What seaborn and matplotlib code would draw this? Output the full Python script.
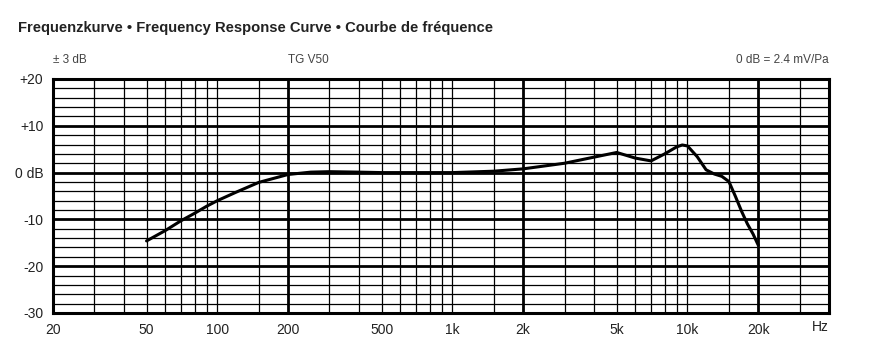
import matplotlib
matplotlib.use("Agg")
import matplotlib.pyplot as plt
import seaborn as sns
import numpy as np
import pandas as pd

freq_hz = [50, 60, 70, 80, 90, 100, 120, 150, 200, 250, 300, 400, 500, 700,
           1000, 1500, 2000, 3000, 4000, 5000, 6000, 7000, 8000, 9000, 9500,
           10000, 11000, 12000, 13000, 14000, 15000, 16000, 17000, 18000,
           19000, 20000]
level_db = [-14.6, -12.4, -10.3, -8.7, -7.2, -6.0, -4.2, -2.1, -0.4, 0.1, 0.2,
            0.1, 0.0, 0.0, 0.0, 0.3, 0.8, 2.0, 3.3, 4.3, 3.1, 2.5, 4.0, 5.5,
            5.9, 5.7, 3.4, 0.6, -0.3, -0.8, -1.9, -5.1, -8.3, -11.0, -13.1,
            -15.5]

x_ticks = [20, 50, 100, 200, 500, 1000, 2000, 5000, 10000, 20000]
x_labels = ["20", "50", "100", "200", "500", "1k", "2k", "5k", "10k", "20k"]
y_ticks = [20, 10, 0, -10, -20, -30]
y_labels = ["+20", "+10", "0 dB", "-10", "-20", "-30"]

thin_v = [30, 40, 50, 60, 70, 80, 90, 100, 150, 300, 400, 500, 600, 700, 800,
          900, 1000, 1500, 3000, 4000, 5000, 6000, 7000, 8000, 9000, 10000,
          15000, 30000]
heavy_v = [200, 2000, 20000]

df = pd.DataFrame({"freq": freq_hz, "db": level_db})

sns.set_theme(style="white")
plt.rcParams["font.family"] = ["Liberation Sans Narrow", "Liberation Sans", "DejaVu Sans"]

fig = plt.figure(figsize=(8.71, 3.60), dpi=100)
ax = fig.add_axes([53 / 871, 47 / 360, 776 / 871, 234 / 360])

ax.set_xscale("log")
ax.set_xlim(20, 40000)
ax.set_ylim(-30, 20)

for f in thin_v:
    ax.axvline(f, color="black", lw=0.9, zorder=1)
for f in heavy_v:
    ax.axvline(f, color="black", lw=2.0, zorder=1)
for d in range(-28, 20, 2):
    ax.axhline(d, color="black", lw=2.0 if d % 10 == 0 else 0.9, zorder=1)

sns.lineplot(data=df, x="freq", y="db", color="black", linewidth=2.2, ax=ax, zorder=3)

for s in ax.spines.values():
    s.set_visible(True)
    s.set_color("black")
    s.set_linewidth(2.2)

ax.set_xticks(x_ticks)
ax.set_xticklabels(x_labels)
ax.xaxis.set_minor_locator(matplotlib.ticker.NullLocator())
ax.set_yticks(y_ticks)
ax.set_yticklabels(y_labels)
ax.tick_params(axis="both", length=0, labelsize=10, colors="#222222")
ax.tick_params(axis="x", pad=7)
ax.tick_params(axis="y", pad=7)
ax.set_xlabel("")
ax.set_ylabel("")

fig.text(18 / 871, 1 - 28 / 360, "Frequenzkurve • Frequency Response Curve • Courbe de fréquence",
         ha="left", va="center", fontsize=10.6, fontweight="bold", color="#222222")
fig.text(53 / 871, 1 - 60 / 360, "± 3 dB", ha="left", va="center", fontsize=8.5, color="#444444")
fig.text(308 / 871, 1 - 60 / 360, "TG V50", ha="center", va="center", fontsize=8.5, color="#444444")
fig.text(829 / 871, 1 - 60 / 360, "0 dB = 2.4 mV/Pa", ha="right", va="center", fontsize=8.5, color="#444444")
fig.text(829 / 871, 1 - 327 / 360, "Hz", ha="right", va="center", fontsize=10, color="#222222")

fig.savefig("out.png", dpi=100, facecolor="white")
